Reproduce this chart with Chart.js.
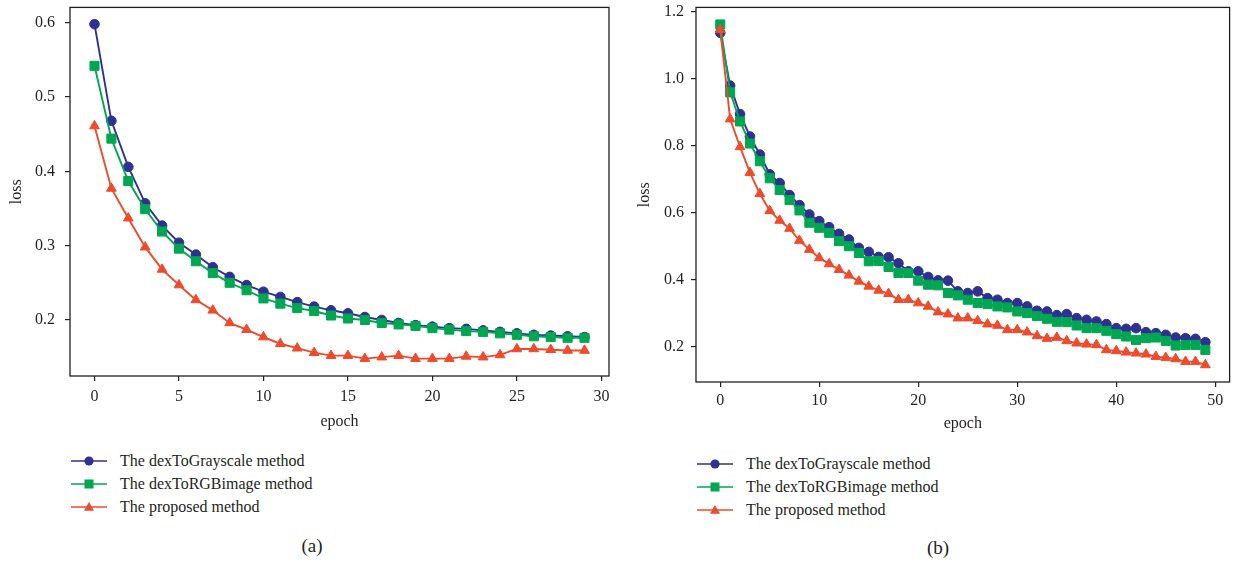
<!DOCTYPE html>
<html>
<head>
<meta charset="utf-8">
<script src="https://cdn.jsdelivr.net/npm/chart.js@4.4.0/dist/chart.umd.min.js"></script>
<style>
  body { margin: 0; background: #fff; width: 1237px; height: 563px; position: relative; overflow: hidden;
         font-family: "Liberation Serif", "DejaVu Serif", serif; color: #231f20; }
  canvas { position: absolute; top: 0; }
  #chartA { left: 0; }
  #chartB { left: 620px; }
  .legend { position: absolute; font-size: 16px; }
  .legend-item { position: absolute; left: 0; height: 20px; white-space: nowrap; }
  .legend-item svg { position: absolute; left: 0; top: 0; }
  .legend-item span { position: absolute; left: 49px; top: 0; line-height: 20px; }
  .caption { position: absolute; font-size: 19px; transform: translate(-50%, -50%); }
</style>
</head>
<body>
<canvas id="chartA" width="620" height="440"></canvas>
<canvas id="chartB" width="617" height="440"></canvas>
<div class="legend" id="legendA" style="left:71px; top:451px;"></div>
<div class="legend" id="legendB" style="left:697px; top:454px;"></div>
<div class="caption" style="left:312px; top:546px;">(a)</div>
<div class="caption" style="left:938px; top:548px;">(b)</div>

<script>
// series names and colours
const seriesNames = ['The dexToGrayscale method', 'The dexToRGBimage method', 'The proposed method'];
const seriesColors = ['#2e3192', '#00a651', '#ef4a2b'];
const seriesPoints = ['circle', 'rect', 'triangle'];

// (a) 30 epochs
const epochsA = [0,1,2,3,4,5,6,7,8,9,10,11,12,13,14,15,16,17,18,19,20,21,22,23,24,25,26,27,28,29];
const grayA = [0.598,0.468,0.406,0.357,0.327,0.304,0.288,0.271,0.258,0.247,0.238,0.231,0.224,0.218,0.213,
               0.209,0.204,0.200,0.196,0.193,0.191,0.189,0.188,0.186,0.184,0.182,0.180,0.179,0.178,0.177];
const rgbA = [0.542,0.444,0.387,0.349,0.319,0.296,0.279,0.263,0.250,0.240,0.229,0.222,0.216,0.212,0.206,
              0.202,0.200,0.196,0.194,0.192,0.189,0.187,0.185,0.184,0.182,0.180,0.178,0.177,0.176,0.176];
const proposedA = [0.461,0.377,0.337,0.298,0.268,0.247,0.227,0.213,0.196,0.187,0.177,0.168,0.162,0.156,0.152,
                   0.152,0.148,0.150,0.152,0.148,0.148,0.148,0.151,0.150,0.153,0.161,0.161,0.160,0.159,0.159];
const xTicksA = [0, 5, 10, 15, 20, 25, 30];
const yTicksA = [0.2, 0.3, 0.4, 0.5, 0.6];

// (b) 50 epochs
const epochsB = [0,1,2,3,4,5,6,7,8,9,10,11,12,13,14,15,16,17,18,19,20,21,22,23,24,
                 25,26,27,28,29,30,31,32,33,34,35,36,37,38,39,40,41,42,43,44,45,46,47,48,49];
const grayB = [1.138,0.980,0.895,0.828,0.774,0.715,0.689,0.653,0.623,0.595,0.575,0.557,0.537,0.520,0.495,
               0.483,0.468,0.467,0.449,0.425,0.425,0.408,0.398,0.397,0.365,0.360,0.365,0.345,0.340,0.330,
               0.330,0.320,0.307,0.305,0.294,0.297,0.285,0.280,0.275,0.267,0.255,0.253,0.255,0.243,0.240,
               0.235,0.227,0.225,0.223,0.213];
const rgbB = [1.163,0.960,0.873,0.807,0.754,0.703,0.668,0.638,0.607,0.570,0.555,0.540,0.515,0.500,0.480,
              0.455,0.456,0.438,0.420,0.420,0.397,0.385,0.383,0.360,0.353,0.340,0.330,0.327,0.320,0.317,
              0.305,0.300,0.291,0.283,0.274,0.273,0.263,0.255,0.255,0.247,0.237,0.230,0.220,0.225,0.227,
              0.217,0.203,0.205,0.205,0.190];
const proposedB = [1.147,0.880,0.797,0.720,0.657,0.606,0.577,0.553,0.517,0.490,0.465,0.447,0.430,0.413,0.395,
                   0.380,0.368,0.358,0.340,0.340,0.330,0.320,0.303,0.297,0.285,0.285,0.277,0.267,0.263,0.250,
                   0.250,0.243,0.232,0.224,0.227,0.217,0.210,0.207,0.205,0.190,0.187,0.183,0.180,0.177,0.170,
                   0.167,0.163,0.155,0.155,0.145];
const xTicksB = [0, 10, 20, 30, 40, 50];
const yTicksB = [0.2, 0.4, 0.6, 0.8, 1.0, 1.2];

const textColor = '#231f20';
const tickFont = { family: '"Liberation Serif", serif', size: 16 };

// closed frame around the plot area
const frameBox = {
  id: 'frameBox',
  afterDraw(chart) {
    const { ctx, chartArea: a } = chart;
    ctx.save();
    ctx.strokeStyle = textColor;
    ctx.lineWidth = 1.3;
    ctx.strokeRect(a.left, a.top, a.right - a.left, a.bottom - a.top);
    ctx.restore();
  }
};

function makeDataset(i, values, sizes) {
  return {
    label: seriesNames[i],
    data: values,
    borderColor: seriesColors[i],
    backgroundColor: seriesColors[i],
    borderWidth: 1.9,
    pointStyle: seriesPoints[i],
    pointRadius: sizes[i],
    pointBorderWidth: 1,
    tension: 0,
    order: 2 - i // proposed method drawn on top
  };
}

function lossChart(id, labels, series, xRange, yRange, xTicks, yTicks, geo) {
  const sizes = [4.8, 6.4, 5.6];
  const axisGrid = { drawOnChartArea: false, drawTicks: true, tickLength: 5, tickColor: textColor, lineWidth: 1.2 };
  new Chart(document.getElementById(id), {
    type: 'line',
    data: {
      labels: labels,
      datasets: series.map((s, i) => makeDataset(i, s, sizes))
    },
    options: {
      responsive: false,
      animation: false,
      devicePixelRatio: 1,
      layout: { padding: { top: geo.top, right: geo.right, left: 0, bottom: 0 } },
      plugins: { legend: { display: false }, tooltip: { enabled: false } },
      scales: {
        x: {
          type: 'linear',
          bounds: 'data',
          min: xRange[0],
          max: xRange[1],
          afterBuildTicks: s => { s.ticks = xTicks.map(v => ({ value: v })); },
          afterFit: s => { s.height = geo.xHeight; s.paddingLeft = 0; s.paddingRight = 0; },
          grid: axisGrid,
          border: { display: false },
          ticks: { color: textColor, font: tickFont, padding: geo.xPad, maxRotation: 0, autoSkip: false,
                   callback: v => String(v) },
          title: { display: true, text: 'epoch', color: textColor, font: tickFont,
                   padding: { top: 0, bottom: geo.xTitlePad } }
        },
        y: {
          type: 'linear',
          bounds: 'data',
          min: yRange[0],
          max: yRange[1],
          afterBuildTicks: s => { s.ticks = yTicks.map(v => ({ value: v })); },
          afterFit: s => { s.width = geo.yWidth; s.paddingTop = 0; s.paddingBottom = 0; },
          grid: axisGrid,
          border: { display: false },
          ticks: { color: textColor, font: tickFont, padding: geo.yPad, autoSkip: false,
                   callback: v => v.toFixed(1) },
          title: { display: true, text: 'loss', color: textColor, font: tickFont,
                   padding: { top: geo.yTitlePad, bottom: 0 } }
        }
      }
    },
    plugins: [frameBox]
  });
}

// legend: one row per series, line with its marker
function buildLegend(id) {
  const box = document.getElementById(id);
  seriesNames.forEach((name, i) => {
    const item = document.createElement('div');
    item.className = 'legend-item';
    item.style.top = (i * 23) + 'px';
    const c = seriesColors[i];
    let marker;
    if (seriesPoints[i] === 'circle') marker = `<circle cx="18" cy="10" r="4.6" fill="${c}"/>`;
    else if (seriesPoints[i] === 'rect') marker = `<rect x="13.5" y="5.5" width="9" height="9" fill="${c}"/>`;
    else marker = `<polygon points="18,5 23,13.7 13,13.7" fill="${c}"/>`;
    item.innerHTML = `<svg width="36" height="20"><line x1="0" y1="10" x2="36" y2="10" stroke="${c}" stroke-width="1.5"/>${marker}</svg>` +
                     `<span>${name}</span>`;
    box.appendChild(item);
  });
}

lossChart('chartA', epochsA, [grayA, rgbA, proposedA], [-1.45, 30.45], [0.1246, 0.6206], xTicksA, yTicksA,
  { top: 4, right: 11, xHeight: 64, yWidth: 70, xPad: 6, xTitlePad: 9, yPad: 10, yTitlePad: 7 });
lossChart('chartB', epochsB, [grayB, rgbB, proposedB], [-2.45, 51.45], [0.094, 1.214], xTicksB, yTicksB,
  { top: 7, right: 3, xHeight: 58, yWidth: 76, xPad: 4, xTitlePad: 7, yPad: 7, yTitlePad: 15 });

buildLegend('legendA');
buildLegend('legendB');
</script>
</body>
</html>
